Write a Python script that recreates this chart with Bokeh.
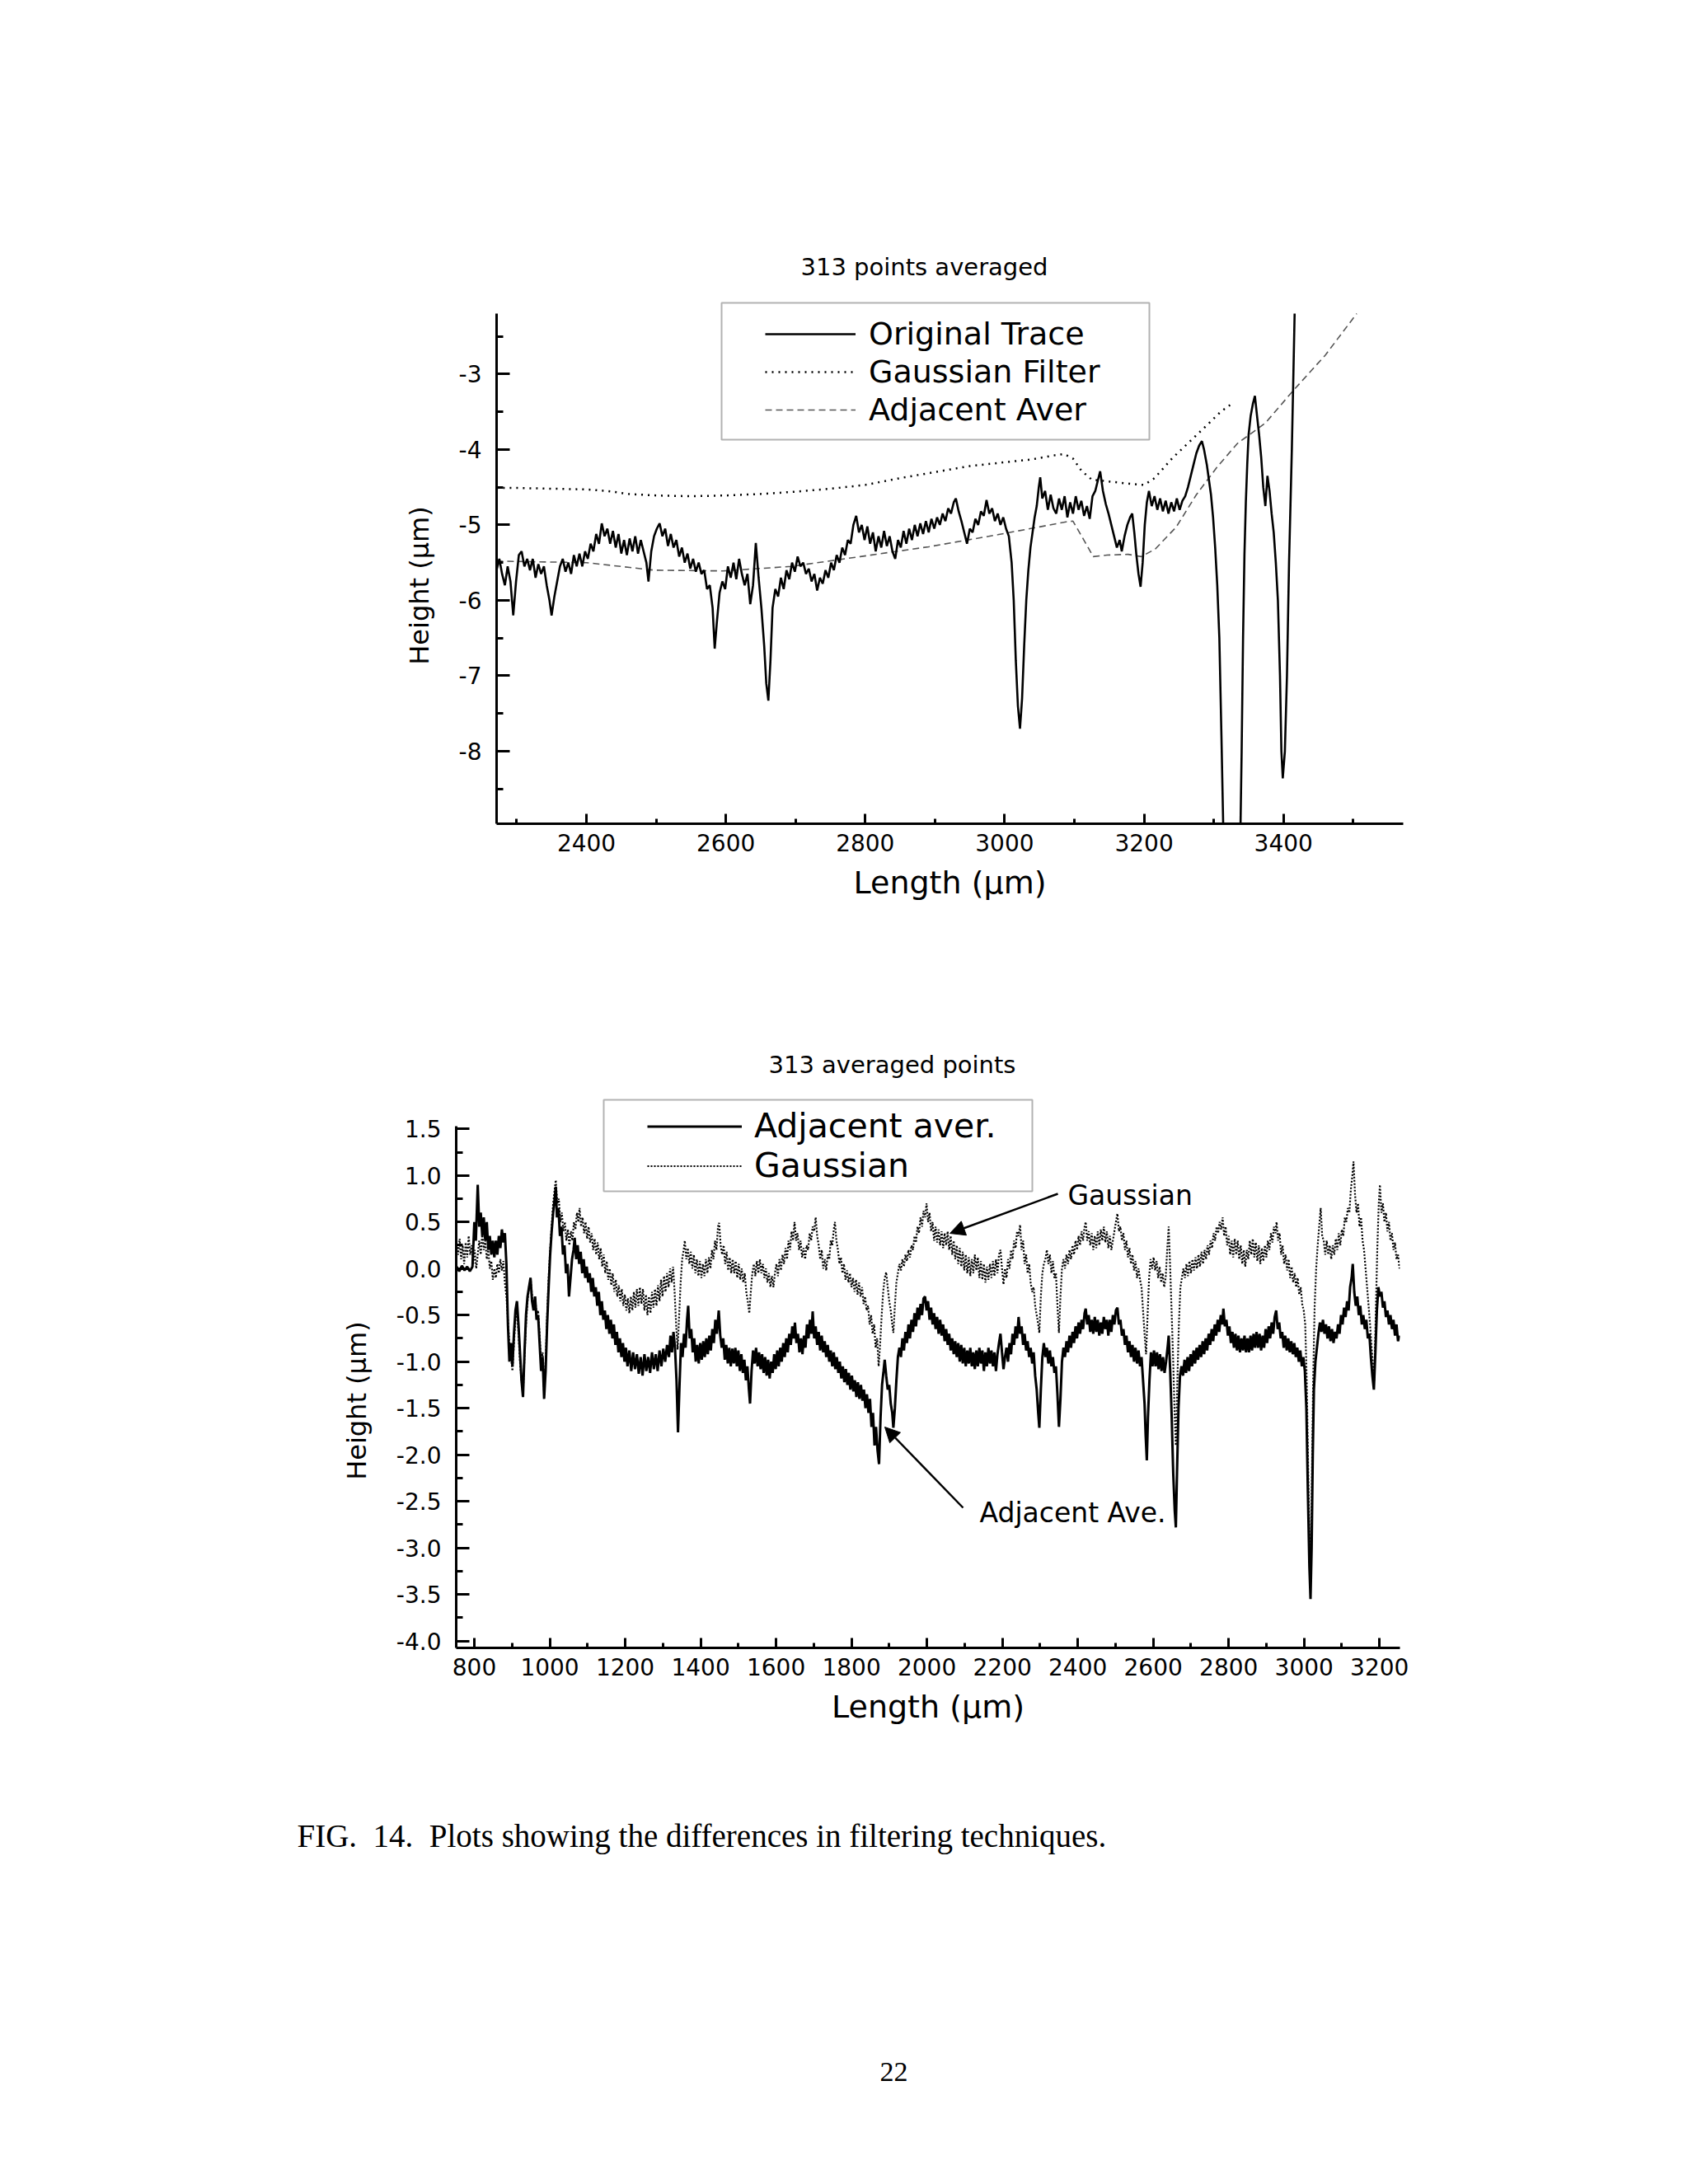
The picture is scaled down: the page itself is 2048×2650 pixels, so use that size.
import math
from bokeh.plotting import figure
from bokeh.models import (Range1d, FixedTicker, CustomJSTickFormatter, Legend, LegendItem,
                          BoxAnnotation, Label, Arrow, NormalHead, ColumnDataSource)
from bokeh.embed import file_html
from bokeh.resources import INLINE

# ------------------------------------------------------------------ data
TOP_TITLE = "313 points averaged"
BOT_TITLE = "313 averaged points"
X_LABEL = "Length (\u03bcm)"
Y_LABEL = "Height (\u03bcm)"
CAPTION = "FIG.  14.  Plots showing the differences in filtering techniques."
PAGE_NO = "22"

TOP_X_TICKS = [2400, 2600, 2800, 3000, 3200, 3400]
TOP_X_MINOR = [2300, 2500, 2700, 2900, 3100, 3300, 3500]
TOP_Y_TICKS = [-8, -7, -6, -5, -4, -3]
TOP_Y_MINOR = [-8.5, -7.5, -6.5, -5.5, -4.5, -3.5, -2.5]
BOT_X_TICKS = [800, 1000, 1200, 1400, 1600, 1800, 2000, 2200, 2400, 2600, 2800, 3000, 3200]
BOT_X_MINOR = [900, 1100, 1300, 1500, 1700, 1900, 2100, 2300, 2500, 2700, 2900, 3100]
BOT_Y_TICKS = [-4.0, -3.5, -3.0, -2.5, -2.0, -1.5, -1.0, -0.5, 0.0, 0.5, 1.0, 1.5]
BOT_Y_MINOR = [-3.75, -3.25, -2.75, -2.25, -1.75, -1.25, -0.75, -0.25, 0.25, 0.75, 1.25]

TOP_LEGEND = ["Original Trace", "Gaussian Filter", "Adjacent Aver"]
BOT_LEGEND = ["Adjacent aver.", "Gaussian"]

# top panel: original trace (x in um, height in um)
TOP_ORIG = [(2271,-5.6),(2275,-5.45),(2279,-5.65),(2283,-5.8),(2287,-5.55),(2291,-5.75),(2295,-6.2),(2299,-5.75),(2303,-5.4),(2307,-5.35),(2311,-5.55),(2315,-5.45),(2319,-5.6),(2323,-5.45),(2327,-5.7),(2331,-5.52),(2335,-5.65),(2339,-5.55),(2343,-5.8),(2347,-6.0),(2350,-6.2),(2354,-5.95),(2358,-5.75),(2362,-5.55),(2366,-5.45),(2370,-5.62),(2374,-5.5),(2378,-5.65),(2382,-5.4),(2386,-5.55),(2390,-5.38),(2394,-5.55),(2398,-5.35),(2402,-5.45),(2406,-5.25),(2410,-5.35),(2414,-5.12),(2418,-5.25),(2422,-4.98),(2426,-5.15),(2430,-5.05),(2434,-5.25),(2438,-5.08),(2442,-5.3),(2446,-5.12),(2450,-5.38),(2454,-5.2),(2458,-5.4),(2462,-5.18),(2466,-5.35),(2470,-5.15),(2474,-5.38),(2478,-5.2),(2482,-5.35),(2486,-5.5),(2489,-5.75),(2493,-5.35),(2497,-5.15),(2501,-5.05),(2505,-4.98),(2509,-5.15),(2513,-5.05),(2517,-5.28),(2521,-5.12),(2525,-5.3),(2529,-5.2),(2533,-5.42),(2537,-5.3),(2541,-5.5),(2545,-5.38),(2549,-5.58),(2553,-5.45),(2557,-5.62),(2561,-5.5),(2565,-5.65),(2569,-5.6),(2573,-5.85),(2577,-5.8),(2581,-6.1),(2584,-6.64),(2587,-6.3),(2591,-5.9),(2595,-5.75),(2599,-5.85),(2603,-5.55),(2607,-5.7),(2611,-5.5),(2615,-5.72),(2619,-5.45),(2623,-5.65),(2627,-5.8),(2631,-5.65),(2635,-6.05),(2639,-5.8),(2643,-5.24),(2647,-5.7),(2651,-6.1),(2655,-6.6),(2658,-7.1),(2661,-7.33),(2664,-6.8),(2667,-6.1),(2671,-5.85),(2675,-5.95),(2679,-5.7),(2683,-5.85),(2687,-5.6),(2691,-5.72),(2695,-5.5),(2699,-5.62),(2703,-5.42),(2707,-5.55),(2711,-5.5),(2715,-5.65),(2719,-5.58),(2723,-5.75),(2727,-5.65),(2731,-5.87),(2735,-5.7),(2739,-5.78),(2743,-5.6),(2747,-5.7),(2751,-5.5),(2755,-5.6),(2759,-5.4),(2763,-5.5),(2767,-5.3),(2771,-5.4),(2775,-5.2),(2779,-5.25),(2783,-5.0),(2787,-4.88),(2791,-5.1),(2795,-5.0),(2799,-5.2),(2803,-5.02),(2807,-5.25),(2811,-5.1),(2815,-5.35),(2819,-5.15),(2823,-5.3),(2827,-5.08),(2831,-5.28),(2835,-5.15),(2839,-5.35),(2843,-5.45),(2847,-5.2),(2851,-5.3),(2855,-5.08),(2859,-5.25),(2863,-5.05),(2867,-5.2),(2871,-5.0),(2875,-5.15),(2879,-4.98),(2883,-5.12),(2887,-4.95),(2891,-5.1),(2895,-4.92),(2899,-5.05),(2903,-4.9),(2907,-5.0),(2911,-4.85),(2915,-4.95),(2919,-4.78),(2923,-4.85),(2927,-4.7),(2930,-4.65),(2934,-4.82),(2938,-4.95),(2942,-5.1),(2946,-5.25),(2950,-5.05),(2954,-5.1),(2958,-4.92),(2962,-5.0),(2966,-4.82),(2970,-4.88),(2974,-4.67),(2978,-4.85),(2982,-4.78),(2986,-4.95),(2990,-4.85),(2994,-5.0),(2998,-4.9),(3002,-5.05),(3006,-5.15),(3010,-5.5),(3013,-6.0),(3016,-6.8),(3019,-7.4),(3022,-7.7),(3025,-7.3),(3028,-6.6),(3031,-6.0),(3034,-5.6),(3037,-5.3),(3040,-5.1),(3043,-4.9),(3046,-4.75),(3049,-4.5),(3051,-4.37),(3054,-4.65),(3058,-4.55),(3062,-4.8),(3066,-4.6),(3070,-4.78),(3074,-4.85),(3078,-4.65),(3082,-4.8),(3086,-4.62),(3090,-4.9),(3094,-4.7),(3098,-4.85),(3102,-4.62),(3106,-4.8),(3110,-4.68),(3114,-4.88),(3118,-4.75),(3122,-4.92),(3126,-4.62),(3130,-4.55),(3134,-4.4),(3137,-4.29),(3141,-4.55),(3145,-4.72),(3149,-4.85),(3153,-5.0),(3157,-5.15),(3161,-5.3),(3165,-5.2),(3168,-5.35),(3172,-5.15),(3176,-5.0),(3180,-4.9),(3183,-4.85),(3186,-5.1),(3189,-5.4),(3192,-5.65),(3195,-5.82),(3198,-5.5),(3201,-5.0),(3204,-4.7),(3207,-4.55),(3211,-4.75),(3215,-4.62),(3219,-4.8),(3223,-4.65),(3227,-4.82),(3231,-4.68),(3235,-4.85),(3239,-4.7),(3243,-4.82),(3247,-4.65),(3251,-4.8),(3255,-4.68),(3259,-4.62),(3263,-4.5),(3267,-4.35),(3271,-4.2),(3275,-4.05),(3279,-3.95),(3283,-3.89),(3286,-4.0),(3290,-4.2),(3293,-4.4),(3296,-4.6),(3299,-4.9),(3302,-5.3),(3305,-5.8),(3308,-6.5),(3311,-7.8),(3314,-9.2),(3316,-9.8),(3337,-9.8),(3340,-8.0),(3342,-6.5),(3344,-5.4),(3346,-4.7),(3348,-4.2),(3350,-3.8),(3353,-3.55),(3356,-3.4),(3359,-3.29),(3362,-3.55),(3365,-3.8),(3368,-4.1),(3371,-4.5),(3374,-4.75),(3377,-4.35),(3380,-4.55),(3383,-4.85),(3386,-5.1),(3389,-5.5),(3392,-6.0),(3395,-7.0),(3397,-8.0),(3399,-8.36),(3402,-8.0),(3405,-7.0),(3408,-5.5),(3412,-4.0),(3416,-2.2)]

TOP_GAUSS = [(2271,-4.51),(2300,-4.51),(2350,-4.52),(2400,-4.53),(2430,-4.55),(2460,-4.59),(2500,-4.61),(2550,-4.62),(2600,-4.61),(2650,-4.59),(2700,-4.56),(2750,-4.52),(2800,-4.47),(2850,-4.38),(2900,-4.3),(2950,-4.22),(3000,-4.17),(3040,-4.13),(3070,-4.08),(3085,-4.06),(3098,-4.12),(3110,-4.28),(3125,-4.4),(3145,-4.42),(3165,-4.44),(3185,-4.46),(3200,-4.47),(3215,-4.38),(3240,-4.12),(3265,-3.9),(3290,-3.68),(3310,-3.5),(3328,-3.38)]

TOP_ADJ = [(2271,-5.48),(2400,-5.5),(2497,-5.6),(2596,-5.61),(2694,-5.55),(2793,-5.42),(2891,-5.29),(2990,-5.13),(3088,-4.96),(3098,-4.95),(3113,-5.19),(3127,-5.42),(3147,-5.4),(3177,-5.39),(3196,-5.42),(3216,-5.32),(3246,-5.03),(3275,-4.6),(3305,-4.23),(3334,-3.92),(3374,-3.65),(3413,-3.23),(3460,-2.75),(3505,-2.2)]

# bottom panel: adjacent averaging (solid) and Gaussian (dotted)
BOT_ADJ = [(753,0.02),(760,-0.03),(767,0.03),(774,-0.02),(781,0.02),(788,-0.03),(795,0.02),(800,0.5),(804,0.3),(809,0.9),(813,0.45),(817,0.6),(821,0.35),(825,0.55),(829,0.3),(833,0.5),(837,0.2),(841,0.35),(845,0.15),(849,0.3),(853,0.12),(857,0.3),(861,0.15),(865,0.35),(869,0.22),(873,0.42),(877,0.28),(881,0.38),(885,0.05),(889,-0.6),(893,-1.0),(897,-0.8),(901,-1.05),(905,-0.7),(909,-0.45),(913,-0.35),(917,-0.6),(921,-0.9),(925,-1.2),(929,-1.38),(933,-0.9),(937,-0.5),(941,-0.3),(945,-0.2),(949,-0.1),(953,-0.35),(957,-0.45),(961,-0.3),(965,-0.55),(969,-0.5),(973,-0.8),(977,-1.1),(981,-0.95),(985,-1.4),(989,-1.1),(993,-0.6),(997,-0.2),(1001,0.15),(1005,0.4),(1009,0.6),(1013,0.75),(1016,0.88),(1019,0.55),(1023,0.65),(1027,0.35),(1031,0.45),(1035,0.15),(1039,0.25),(1043,-0.05),(1047,0.05),(1051,-0.3),(1055,-0.1),(1059,0.1),(1063,0.2),(1066,0.33),(1070,0.1),(1074,0.25),(1078,0.05),(1082,0.18),(1086,-0.05),(1090,0.1),(1094,-0.1),(1098,0.02),(1102,-0.15),(1106,-0.05),(1110,-0.25),(1114,-0.1),(1118,-0.3),(1122,-0.2),(1126,-0.4),(1130,-0.25),(1134,-0.5),(1138,-0.35),(1142,-0.55),(1146,-0.45),(1150,-0.65),(1154,-0.5),(1158,-0.7),(1162,-0.55),(1166,-0.75),(1170,-0.6),(1174,-0.82),(1178,-0.68),(1182,-0.9),(1186,-0.75),(1190,-0.95),(1194,-0.8),(1198,-1.0),(1202,-0.85),(1206,-1.05),(1211,-0.88),(1216,-1.1),(1221,-0.9),(1226,-1.08),(1231,-0.92),(1236,-1.13),(1241,-0.95),(1246,-1.15),(1251,-0.92),(1256,-1.1),(1261,-0.95),(1266,-1.12),(1271,-0.9),(1276,-1.08),(1281,-0.92),(1286,-1.1),(1291,-0.88),(1296,-1.05),(1301,-0.86),(1306,-1.0),(1311,-0.82),(1316,-0.95),(1320,-0.72),(1324,-0.9),(1328,-0.68),(1332,-0.85),(1336,-1.2),(1340,-1.76),(1344,-1.25),(1348,-0.8),(1352,-0.95),(1356,-0.7),(1360,-0.85),(1364,-0.55),(1367,-0.4),(1371,-0.75),(1375,-0.65),(1379,-0.9),(1383,-0.75),(1387,-1.0),(1391,-0.82),(1395,-1.02),(1399,-0.8),(1403,-0.98),(1407,-0.78),(1411,-0.95),(1415,-0.75),(1419,-0.92),(1423,-0.72),(1427,-0.88),(1431,-0.65),(1435,-0.8),(1439,-0.55),(1443,-0.7),(1448,-0.45),(1452,-0.72),(1456,-0.85),(1460,-0.75),(1464,-0.98),(1468,-0.82),(1472,-1.02),(1476,-0.85),(1480,-1.05),(1484,-0.86),(1488,-1.02),(1492,-0.85),(1496,-1.05),(1500,-0.88),(1504,-1.1),(1508,-0.92),(1512,-1.12),(1516,-0.98),(1520,-1.2),(1524,-1.05),(1528,-1.3),(1531,-1.45),(1535,-1.1),(1539,-0.88),(1543,-1.02),(1547,-0.85),(1551,-1.05),(1555,-0.9),(1559,-1.08),(1563,-0.92),(1567,-1.12),(1571,-0.95),(1575,-1.15),(1579,-0.98),(1583,-1.18),(1587,-1.0),(1591,-1.12),(1595,-0.92),(1599,-1.08),(1603,-0.88),(1607,-1.05),(1611,-0.85),(1615,-1.0),(1619,-0.8),(1623,-0.95),(1627,-0.75),(1631,-0.9),(1635,-0.7),(1639,-0.82),(1643,-0.62),(1647,-0.75),(1650,-0.58),(1654,-0.8),(1658,-0.7),(1662,-0.9),(1666,-0.75),(1670,-0.92),(1674,-0.72),(1678,-0.85),(1682,-0.6),(1686,-0.75),(1690,-0.55),(1694,-0.7),(1697,-0.46),(1701,-0.75),(1705,-0.62),(1709,-0.82),(1713,-0.68),(1717,-0.88),(1721,-0.72),(1725,-0.9),(1729,-0.78),(1733,-0.95),(1737,-0.82),(1741,-1.0),(1745,-0.88),(1749,-1.05),(1753,-0.9),(1757,-1.08),(1761,-0.95),(1765,-1.12),(1769,-1.0),(1773,-1.18),(1777,-1.05),(1781,-1.22),(1785,-1.08),(1789,-1.25),(1793,-1.12),(1797,-1.3),(1801,-1.15),(1805,-1.32),(1809,-1.2),(1813,-1.38),(1817,-1.22),(1821,-1.4),(1825,-1.25),(1829,-1.42),(1833,-1.3),(1837,-1.5),(1841,-1.35),(1845,-1.55),(1849,-1.4),(1853,-1.7),(1857,-1.55),(1861,-1.9),(1865,-1.7),(1869,-1.95),(1873,-2.1),(1877,-1.6),(1881,-1.25),(1885,-1.1),(1888,-0.98),(1892,-1.15),(1896,-1.3),(1900,-1.25),(1904,-1.45),(1908,-1.55),(1911,-1.71),(1915,-1.5),(1919,-1.2),(1923,-0.95),(1927,-0.85),(1931,-0.95),(1935,-0.75),(1939,-0.88),(1943,-0.68),(1947,-0.8),(1951,-0.6),(1955,-0.75),(1959,-0.55),(1963,-0.68),(1967,-0.48),(1971,-0.62),(1975,-0.42),(1979,-0.55),(1983,-0.38),(1987,-0.5),(1991,-0.32),(1995,-0.3),(1999,-0.45),(2003,-0.35),(2007,-0.55),(2011,-0.42),(2015,-0.6),(2019,-0.48),(2023,-0.65),(2027,-0.52),(2031,-0.7),(2035,-0.55),(2039,-0.72),(2043,-0.6),(2047,-0.78),(2051,-0.65),(2055,-0.82),(2059,-0.7),(2063,-0.88),(2067,-0.75),(2071,-0.92),(2075,-0.78),(2079,-0.95),(2083,-0.8),(2087,-1.0),(2091,-0.82),(2095,-1.02),(2099,-0.85),(2103,-1.05),(2107,-0.88),(2111,-1.02),(2115,-0.85),(2119,-1.05),(2123,-0.9),(2127,-1.08),(2131,-0.88),(2135,-1.05),(2139,-0.85),(2143,-1.02),(2147,-0.88),(2151,-1.1),(2155,-0.9),(2159,-1.05),(2163,-0.85),(2167,-1.02),(2171,-0.88),(2175,-1.05),(2179,-0.9),(2183,-1.1),(2187,-0.92),(2191,-0.8),(2195,-0.7),(2199,-0.9),(2203,-1.08),(2207,-0.95),(2211,-0.85),(2215,-1.0),(2219,-0.8),(2223,-0.92),(2227,-0.7),(2231,-0.82),(2235,-0.62),(2239,-0.75),(2243,-0.52),(2247,-0.7),(2251,-0.62),(2255,-0.82),(2259,-0.7),(2263,-0.88),(2267,-0.78),(2271,-0.95),(2275,-0.85),(2279,-1.02),(2283,-0.9),(2287,-1.15),(2291,-1.3),(2295,-1.55),(2298,-1.71),(2302,-1.3),(2306,-0.95),(2310,-0.8),(2314,-0.95),(2318,-0.85),(2322,-1.02),(2326,-0.88),(2330,-1.05),(2334,-0.95),(2338,-1.12),(2342,-1.05),(2346,-1.35),(2350,-1.7),(2354,-1.4),(2358,-1.0),(2362,-0.85),(2366,-0.95),(2370,-0.78),(2374,-0.9),(2378,-0.72),(2382,-0.85),(2386,-0.68),(2390,-0.8),(2394,-0.62),(2398,-0.75),(2402,-0.58),(2406,-0.7),(2410,-0.55),(2414,-0.65),(2418,-0.48),(2421,-0.43),(2425,-0.6),(2429,-0.5),(2433,-0.68),(2437,-0.55),(2441,-0.7),(2445,-0.52),(2449,-0.68),(2453,-0.55),(2457,-0.72),(2461,-0.58),(2465,-0.7),(2469,-0.52),(2473,-0.65),(2477,-0.55),(2481,-0.72),(2485,-0.55),(2489,-0.68),(2493,-0.5),(2497,-0.6),(2501,-0.45),(2505,-0.42),(2509,-0.6),(2513,-0.55),(2517,-0.72),(2521,-0.65),(2525,-0.82),(2529,-0.72),(2533,-0.9),(2537,-0.78),(2541,-0.95),(2545,-0.82),(2549,-1.0),(2553,-0.85),(2557,-1.02),(2561,-0.88),(2565,-1.05),(2569,-0.95),(2573,-1.2),(2577,-1.45),(2580,-1.8),(2583,-2.06),(2586,-1.6),(2590,-1.2),(2594,-0.9),(2598,-1.05),(2602,-0.88),(2606,-1.05),(2610,-0.9),(2614,-1.08),(2618,-0.92),(2622,-1.1),(2626,-0.95),(2630,-1.12),(2634,-1.0),(2638,-0.85),(2641,-0.72),(2645,-1.1),(2649,-1.6),(2653,-2.2),(2657,-2.6),(2660,-2.78),(2663,-2.2),(2667,-1.5),(2671,-1.15),(2675,-1.05),(2679,-1.15),(2683,-0.98),(2687,-1.12),(2691,-0.95),(2695,-1.1),(2699,-0.92),(2703,-1.05),(2707,-0.88),(2711,-1.02),(2715,-0.85),(2719,-0.98),(2723,-0.82),(2727,-0.95),(2731,-0.78),(2735,-0.92),(2739,-0.75),(2743,-0.88),(2747,-0.7),(2751,-0.82),(2755,-0.65),(2759,-0.78),(2763,-0.6),(2767,-0.72),(2771,-0.55),(2775,-0.68),(2779,-0.5),(2783,-0.6),(2786,-0.43),(2790,-0.62),(2794,-0.55),(2798,-0.72),(2802,-0.62),(2806,-0.8),(2810,-0.68),(2814,-0.85),(2818,-0.7),(2822,-0.88),(2826,-0.72),(2830,-0.9),(2834,-0.75),(2838,-0.88),(2842,-0.72),(2846,-0.9),(2850,-0.75),(2854,-0.9),(2858,-0.72),(2862,-0.88),(2866,-0.7),(2870,-0.85),(2874,-0.68),(2878,-0.85),(2882,-0.7),(2886,-0.88),(2890,-0.72),(2894,-0.85),(2898,-0.65),(2902,-0.8),(2906,-0.62),(2910,-0.75),(2914,-0.58),(2918,-0.7),(2922,-0.52),(2926,-0.45),(2930,-0.65),(2934,-0.58),(2938,-0.75),(2942,-0.68),(2946,-0.85),(2950,-0.72),(2954,-0.88),(2958,-0.75),(2962,-0.9),(2966,-0.78),(2970,-0.92),(2974,-0.8),(2978,-0.95),(2982,-0.85),(2986,-1.0),(2990,-0.88),(2994,-1.05),(2998,-0.95),(3002,-1.1),(3006,-1.5),(3010,-2.4),(3014,-3.2),(3017,-3.55),(3020,-3.0),(3023,-2.0),(3026,-1.3),(3030,-1.0),(3034,-0.85),(3038,-0.7),(3042,-0.58),(3046,-0.68),(3050,-0.55),(3054,-0.7),(3058,-0.6),(3062,-0.75),(3066,-0.62),(3070,-0.78),(3074,-0.65),(3078,-0.8),(3082,-0.68),(3086,-0.75),(3090,-0.6),(3094,-0.7),(3098,-0.5),(3102,-0.6),(3106,-0.42),(3110,-0.52),(3114,-0.35),(3118,-0.45),(3122,-0.2),(3126,-0.1),(3129,0.05),(3133,-0.25),(3137,-0.4),(3141,-0.3),(3145,-0.5),(3149,-0.4),(3153,-0.6),(3157,-0.5),(3161,-0.65),(3165,-0.55),(3169,-0.75),(3173,-0.7),(3177,-0.95),(3181,-1.15),(3185,-1.3),(3189,-0.9),(3193,-0.45),(3197,-0.2),(3201,-0.3),(3205,-0.25),(3209,-0.42),(3213,-0.35),(3217,-0.52),(3221,-0.45),(3225,-0.6),(3229,-0.5),(3233,-0.65),(3237,-0.55),(3241,-0.72),(3245,-0.6),(3249,-0.78),(3253,-0.72)]

BOT_GAU = [(753,0.3),(757,0.15),(761,0.32),(765,0.1),(769,0.25),(773,0.05),(777,0.28),(781,0.12),(785,0.35),(789,0.15),(793,0.25),(797,0.05),(801,0.2),(805,0.0),(809,0.15),(813,0.3),(817,0.15),(821,0.38),(825,0.2),(829,0.3),(833,0.1),(837,0.2),(841,0.0),(845,0.08),(849,-0.12),(853,0.0),(857,-0.1),(861,0.05),(865,-0.05),(869,0.1),(873,-0.02),(877,0.08),(881,-0.15),(885,-0.3),(889,-0.55),(893,-0.8),(897,-0.95),(901,-1.1),(905,-0.8),(909,-0.55),(913,-0.45),(917,-0.7),(921,-1.0),(925,-1.2),(929,-1.35),(933,-0.95),(937,-0.6),(941,-0.35),(945,-0.2),(949,-0.1),(953,-0.3),(957,-0.4),(961,-0.3),(965,-0.5),(969,-0.45),(973,-0.7),(977,-1.0),(981,-0.9),(985,-1.35),(989,-1.0),(993,-0.5),(997,-0.1),(1001,0.2),(1005,0.45),(1009,0.7),(1013,0.85),(1016,0.95),(1020,0.7),(1024,0.75),(1028,0.5),(1032,0.6),(1036,0.4),(1040,0.5),(1044,0.3),(1048,0.42),(1052,0.25),(1056,0.4),(1060,0.3),(1064,0.5),(1068,0.42),(1072,0.6),(1076,0.5),(1079,0.65),(1083,0.45),(1087,0.55),(1091,0.38),(1095,0.5),(1099,0.32),(1103,0.45),(1107,0.28),(1111,0.38),(1115,0.2),(1119,0.32),(1123,0.15),(1127,0.28),(1131,0.1),(1135,0.22),(1139,0.02),(1143,0.15),(1147,-0.05),(1151,0.08),(1155,-0.12),(1159,0.0),(1163,-0.18),(1167,-0.05),(1171,-0.25),(1175,-0.12),(1179,-0.3),(1183,-0.18),(1187,-0.35),(1191,-0.22),(1195,-0.4),(1199,-0.28),(1203,-0.45),(1207,-0.32),(1211,-0.48),(1215,-0.3),(1219,-0.45),(1223,-0.25),(1227,-0.42),(1231,-0.22),(1235,-0.4),(1239,-0.2),(1243,-0.38),(1247,-0.22),(1251,-0.45),(1255,-0.28),(1259,-0.5),(1263,-0.3),(1267,-0.48),(1271,-0.25),(1275,-0.42),(1279,-0.22),(1283,-0.4),(1287,-0.18),(1291,-0.35),(1295,-0.12),(1299,-0.3),(1303,-0.08),(1307,-0.25),(1311,-0.05),(1315,-0.2),(1319,0.0),(1323,-0.15),(1327,0.02),(1331,-0.25),(1335,-0.6),(1339,-0.87),(1343,-0.5),(1347,-0.15),(1351,0.1),(1355,0.2),(1358,0.3),(1362,0.1),(1366,0.22),(1370,0.05),(1374,0.18),(1378,0.0),(1382,0.15),(1386,-0.05),(1390,0.1),(1394,-0.08),(1398,0.08),(1402,-0.1),(1406,0.05),(1410,-0.08),(1414,0.1),(1418,-0.05),(1422,0.12),(1426,0.0),(1430,0.2),(1434,0.1),(1438,0.3),(1442,0.2),(1446,0.45),(1449,0.49),(1453,0.25),(1457,0.15),(1461,0.25),(1465,0.05),(1469,0.18),(1473,-0.02),(1477,0.12),(1481,-0.05),(1485,0.1),(1489,-0.05),(1493,0.08),(1497,-0.1),(1501,0.05),(1505,-0.12),(1509,0.0),(1513,-0.15),(1517,-0.05),(1521,-0.25),(1525,-0.35),(1529,-0.48),(1533,-0.25),(1537,-0.05),(1541,0.05),(1545,-0.08),(1549,0.08),(1553,-0.05),(1557,0.1),(1561,-0.05),(1565,0.05),(1569,-0.1),(1573,0.0),(1577,-0.15),(1581,-0.05),(1585,-0.2),(1589,-0.08),(1593,-0.2),(1597,-0.05),(1601,0.05),(1605,-0.08),(1609,0.1),(1613,-0.02),(1617,0.15),(1621,0.05),(1625,0.22),(1629,0.1),(1633,0.3),(1637,0.2),(1641,0.4),(1645,0.3),(1649,0.5),(1653,0.3),(1657,0.38),(1661,0.2),(1665,0.3),(1669,0.12),(1673,0.22),(1677,0.1),(1681,0.25),(1685,0.2),(1689,0.38),(1693,0.3),(1697,0.45),(1701,0.4),(1705,0.55),(1709,0.35),(1713,0.25),(1717,0.1),(1721,0.2),(1725,0.0),(1729,0.1),(1733,-0.02),(1737,0.15),(1741,0.1),(1745,0.3),(1749,0.25),(1753,0.42),(1756,0.5),(1760,0.3),(1764,0.2),(1768,0.05),(1772,0.12),(1776,-0.05),(1780,0.05),(1784,-0.12),(1788,-0.02),(1792,-0.15),(1796,-0.05),(1800,-0.2),(1804,-0.1),(1808,-0.25),(1812,-0.12),(1816,-0.28),(1820,-0.15),(1824,-0.3),(1828,-0.2),(1832,-0.38),(1836,-0.3),(1840,-0.45),(1844,-0.4),(1848,-0.6),(1852,-0.5),(1856,-0.7),(1860,-0.6),(1864,-0.85),(1868,-0.75),(1872,-1.05),(1876,-0.8),(1880,-0.5),(1884,-0.25),(1888,-0.1),(1892,-0.04),(1896,-0.2),(1900,-0.35),(1904,-0.45),(1908,-0.6),(1911,-0.69),(1915,-0.4),(1919,-0.15),(1923,-0.05),(1927,0.05),(1931,-0.02),(1935,0.1),(1939,0.02),(1943,0.15),(1947,0.08),(1951,0.2),(1955,0.12),(1959,0.25),(1963,0.2),(1967,0.35),(1971,0.28),(1975,0.45),(1979,0.38),(1983,0.55),(1987,0.45),(1991,0.62),(1995,0.55),(1999,0.7),(2003,0.5),(2007,0.6),(2011,0.4),(2015,0.5),(2019,0.3),(2023,0.45),(2027,0.28),(2031,0.42),(2035,0.25),(2039,0.4),(2043,0.22),(2047,0.38),(2051,0.25),(2055,0.4),(2059,0.2),(2063,0.35),(2067,0.15),(2071,0.3),(2075,0.1),(2079,0.25),(2083,0.05),(2087,0.22),(2091,0.02),(2095,0.18),(2099,-0.02),(2103,0.15),(2107,-0.05),(2111,0.12),(2115,-0.08),(2119,0.1),(2123,-0.05),(2127,0.15),(2131,-0.02),(2135,0.12),(2139,-0.1),(2143,0.08),(2147,-0.12),(2151,0.05),(2155,-0.15),(2159,0.02),(2163,-0.12),(2167,0.05),(2171,-0.1),(2175,0.08),(2179,-0.08),(2183,0.1),(2187,-0.05),(2191,0.15),(2195,0.2),(2199,0.0),(2203,-0.17),(2207,0.0),(2211,-0.1),(2215,0.1),(2219,0.0),(2223,0.2),(2227,0.1),(2231,0.3),(2235,0.22),(2239,0.4),(2243,0.35),(2247,0.47),(2251,0.2),(2255,0.3),(2259,0.05),(2263,0.15),(2267,-0.05),(2271,0.05),(2275,-0.15),(2279,-0.25),(2283,-0.2),(2287,-0.4),(2291,-0.5),(2295,-0.6),(2298,-0.69),(2302,-0.3),(2306,-0.05),(2310,0.05),(2314,0.1),(2318,0.2),(2322,0.05),(2326,0.15),(2330,-0.05),(2334,0.08),(2338,-0.1),(2342,-0.05),(2346,-0.4),(2350,-0.69),(2354,-0.3),(2358,0.0),(2362,0.1),(2366,0.0),(2370,0.15),(2374,0.05),(2378,0.2),(2382,0.1),(2386,0.25),(2390,0.15),(2394,0.3),(2398,0.2),(2402,0.35),(2406,0.25),(2410,0.4),(2414,0.3),(2418,0.45),(2421,0.5),(2425,0.3),(2429,0.4),(2433,0.25),(2437,0.38),(2441,0.2),(2445,0.35),(2449,0.22),(2453,0.4),(2457,0.25),(2461,0.42),(2465,0.3),(2469,0.45),(2473,0.28),(2477,0.4),(2481,0.22),(2485,0.35),(2489,0.2),(2493,0.3),(2497,0.4),(2501,0.5),(2505,0.59),(2509,0.4),(2513,0.45),(2517,0.3),(2521,0.38),(2525,0.2),(2529,0.3),(2533,0.12),(2537,0.22),(2541,0.05),(2545,0.15),(2549,-0.02),(2553,0.08),(2557,-0.1),(2561,0.0),(2565,-0.12),(2569,-0.2),(2573,-0.45),(2577,-0.7),(2581,-0.92),(2585,-0.5),(2589,-0.1),(2593,0.1),(2597,0.0),(2601,0.12),(2605,-0.02),(2609,0.08),(2613,-0.1),(2617,0.02),(2621,-0.15),(2625,-0.05),(2629,-0.2),(2633,-0.1),(2637,0.2),(2641,0.45),(2645,0.0),(2649,-0.5),(2653,-1.0),(2657,-1.6),(2660,-1.9),(2664,-1.2),(2668,-0.6),(2672,-0.2),(2676,-0.1),(2680,0.0),(2684,-0.1),(2688,0.05),(2692,-0.08),(2696,0.08),(2700,-0.05),(2704,0.1),(2708,-0.02),(2712,0.12),(2716,0.0),(2720,0.15),(2724,0.02),(2728,0.18),(2732,0.05),(2736,0.2),(2740,0.1),(2744,0.25),(2748,0.15),(2752,0.3),(2756,0.22),(2760,0.38),(2764,0.3),(2768,0.45),(2772,0.38),(2776,0.5),(2780,0.42),(2784,0.55),(2788,0.35),(2792,0.45),(2796,0.25),(2800,0.35),(2804,0.15),(2808,0.3),(2812,0.12),(2816,0.32),(2820,0.15),(2824,0.3),(2828,0.1),(2832,0.25),(2836,0.05),(2840,0.2),(2844,0.02),(2848,0.2),(2852,0.1),(2856,0.3),(2860,0.15),(2864,0.32),(2868,0.12),(2872,0.28),(2876,0.08),(2880,0.25),(2884,0.05),(2888,0.22),(2892,0.08),(2896,0.25),(2900,0.12),(2904,0.3),(2908,0.2),(2912,0.38),(2916,0.28),(2920,0.45),(2924,0.38),(2927,0.5),(2931,0.3),(2935,0.38),(2939,0.15),(2943,0.25),(2947,0.05),(2951,0.15),(2955,-0.02),(2959,0.1),(2963,-0.1),(2967,0.02),(2971,-0.15),(2975,-0.05),(2979,-0.2),(2983,-0.1),(2987,-0.28),(2991,-0.2),(2995,-0.38),(2999,-0.45),(3003,-0.6),(3007,-1.2),(3011,-2.2),(3014,-2.8),(3017,-3.1),(3020,-2.5),(3024,-1.2),(3028,-0.4),(3032,0.0),(3036,0.25),(3040,0.45),(3044,0.65),(3048,0.35),(3052,0.3),(3056,0.15),(3060,0.3),(3064,0.15),(3068,0.25),(3072,0.1),(3076,0.25),(3080,0.15),(3084,0.32),(3088,0.2),(3092,0.38),(3096,0.25),(3100,0.42),(3104,0.35),(3108,0.55),(3112,0.5),(3116,0.65),(3120,0.6),(3124,0.85),(3128,1.0),(3131,1.15),(3135,0.8),(3139,0.6),(3143,0.7),(3147,0.45),(3151,0.55),(3155,0.3),(3159,0.2),(3163,0.0),(3167,-0.2),(3171,-0.4),(3175,-0.6),(3179,-0.85),(3183,-1.05),(3186,-1.2),(3190,-0.5),(3194,0.2),(3198,0.7),(3201,0.9),(3205,0.6),(3209,0.7),(3213,0.5),(3217,0.6),(3221,0.4),(3225,0.5),(3229,0.3),(3233,0.38),(3237,0.2),(3241,0.28),(3245,0.1),(3249,0.15),(3253,0.0)]

# ------------------------------------------------------------------ layout (page pixels, page origin at 0,0)
SANS = "DejaVu Sans"
SERIF = "Liberation Serif"
PAGE_W = 2040
NBSP = "\u00a0"

TOPG = dict(left=602, right=1702, top=380, bottom=999, x0=2271.1, x1=3571.8,
            y0=-8.961, y1=-2.199, frame_top=360, fig_top=0, height=1200,
            title_left=971, ylab_pad=6)
BOTG = dict(left=553, right=1698, top=1366, bottom=1999, x0=751.9, x1=3254.1,
            y0=-4.074, y1=1.529, frame_top=1328, fig_top=1200, height=950,
            title_left=932, ylab_pad=7)
CAPG = dict(fig_top=2150, height=490)


def mapper(g):
    sx = (g["right"] - g["left"]) / (g["x1"] - g["x0"])
    sy = (g["bottom"] - g["top"]) / (g["y1"] - g["y0"])
    return (lambda px: g["x0"] + (px - g["left"]) / sx,
            lambda py: g["y0"] + (g["bottom"] - py) / sy)


def make_fig(g, xt, xm, yt, ym, yfmt, title):
    fx, fy = mapper(g)
    p = figure(width=PAGE_W, height=g["height"],
               x_range=Range1d(g["x0"], g["x1"]),
               y_range=Range1d(g["y0"], fy(g["frame_top"])),
               min_border_left=g["left"],
               min_border_right=PAGE_W - g["right"],
               min_border_top=g["frame_top"] - g["fig_top"],
               min_border_bottom=g["height"] - (g["bottom"] - g["fig_top"]),
               output_backend="svg", toolbar_location=None)
    p.outline_line_color = None
    p.grid.visible = False
    p.background_fill_color = "white"
    p.border_fill_color = "white"
    p.title.text = title
    p.title.align = "left"
    p.title.offset = g["title_left"] - g["left"]
    p.title.text_font = SANS
    p.title.text_font_size = "29px"
    p.title.text_font_style = "normal"
    p.title.text_color = "black"
    p.title.standoff = 40
    for ax in p.axis:
        ax.axis_line_width = 3
        ax.axis_line_color = "black"
        ax.major_tick_line_width = 3
        ax.minor_tick_line_width = 3
        ax.major_tick_line_color = "black"
        ax.minor_tick_line_color = "black"
        ax.major_tick_out = 0
        ax.minor_tick_out = 0
        ax.major_label_text_font = SANS
        ax.major_label_text_font_size = "28px"
        ax.major_label_text_color = "black"
        ax.axis_label_text_font = SANS
        ax.axis_label_text_font_style = "normal"
        ax.axis_label_text_color = "black"
    xa, ya = p.xaxis[0], p.yaxis[0]
    xa.ticker = FixedTicker(ticks=xt, minor_ticks=xm)
    ya.ticker = FixedTicker(ticks=yt, minor_ticks=ym)
    xa.formatter = CustomJSTickFormatter(code="return tick.toFixed(0)")
    ya.formatter = CustomJSTickFormatter(code="return tick.toFixed(%d)" % yfmt)
    ya.bounds = (g["y0"], g["y1"])
    xa.major_tick_in = 12
    xa.minor_tick_in = 6
    ya.major_tick_in = 16
    ya.minor_tick_in = 8
    ya.major_label_standoff = 18
    xa.major_label_standoff = 12
    xa.axis_label = X_LABEL
    xa.axis_label_text_font_size = "38px"
    xa.axis_label_standoff = 13
    # label is centred on the frame; trailing no-break spaces move it down to the axis middle
    ya.axis_label = Y_LABEL + NBSP * g["ylab_pad"]
    ya.axis_label_text_font_size = "32px"
    ya.axis_label_standoff = 26
    return p, fx, fy


def xs(pairs):
    return [a for a, b in pairs]


def ys(pairs):
    return [b for a, b in pairs]


def text(p, x, y, s, size, font=SANS, align="center"):
    p.add_layout(Label(x=x, y=y, text=s, text_font=font, text_font_size=size,
                       text_align=align, text_baseline="middle", text_color="black"))


def legend_box(p, fx, fy, l, r, t, b):
    p.add_layout(BoxAnnotation(left=fx(l), right=fx(r), top=fy(t), bottom=fy(b),
                               fill_alpha=0, fill_color=None, line_color="black",
                               line_width=2))


# ------------------------------------------------------------------ top panel
p1, tx, ty = make_fig(TOPG, TOP_X_TICKS, TOP_X_MINOR, TOP_Y_TICKS, TOP_Y_MINOR, 0, TOP_TITLE)
s_orig = ColumnDataSource(dict(x=xs(TOP_ORIG), y=ys(TOP_ORIG)))
s_tg = ColumnDataSource(dict(x=xs(TOP_GAUSS), y=ys(TOP_GAUSS)))
s_ta = ColumnDataSource(dict(x=xs(TOP_ADJ), y=ys(TOP_ADJ)))
r_tg = p1.line("x", "y", source=s_tg, line_color="black", line_width=2.5, line_dash="2 6")
r_ta = p1.line("x", "y", source=s_ta, line_color="#555555", line_width=1.6, line_dash="8 5")
r_orig = p1.line("x", "y", source=s_orig, line_color="black", line_width=2.6)

legend_box(p1, tx, ty, 875, 1394, 367, 533)
leg1 = Legend(items=[LegendItem(label=TOP_LEGEND[0], renderers=[r_orig]),
                     LegendItem(label=TOP_LEGEND[1], renderers=[r_tg]),
                     LegendItem(label=TOP_LEGEND[2], renderers=[r_ta])],
              location=(928 - TOPG["left"], TOPG["bottom"] - 520),
              padding=0, spacing=0, margin=0, label_height=46, glyph_height=46,
              glyph_width=110, label_standoff=16, border_line_color=None,
              background_fill_alpha=0, label_text_font=SANS,
              label_text_font_size="38px", label_text_color="black")
p1.add_layout(leg1)

# ------------------------------------------------------------------ bottom panel
p2, bx, by = make_fig(BOTG, BOT_X_TICKS, BOT_X_MINOR, BOT_Y_TICKS, BOT_Y_MINOR, 1, BOT_TITLE)
s_bg = ColumnDataSource(dict(x=xs(BOT_GAU), y=ys(BOT_GAU)))
s_ba = ColumnDataSource(dict(x=xs(BOT_ADJ), y=ys(BOT_ADJ)))
r_bg = p2.line("x", "y", source=s_bg, line_color="black", line_width=2.2, line_dash="2 2")
r_ba = p2.line("x", "y", source=s_ba, line_color="black", line_width=3)

legend_box(p2, bx, by, 732, 1252, 1334, 1445)
leg2 = Legend(items=[LegendItem(label=BOT_LEGEND[0], renderers=[r_ba]),
                     LegendItem(label=BOT_LEGEND[1], renderers=[r_bg])],
              location=(785 - BOTG["left"], BOTG["bottom"] - 1438),
              padding=0, spacing=0, margin=0, label_height=47, glyph_height=47,
              glyph_width=115, label_standoff=15, border_line_color=None,
              background_fill_alpha=0, label_text_font=SANS,
              label_text_font_size="41px", label_text_color="black")
p2.add_layout(leg2)

# arrows with labels
p2.add_layout(Arrow(end=NormalHead(size=18, fill_color="black", line_color="black"),
                    x_start=bx(1283), y_start=by(1448), x_end=bx(1152), y_end=by(1496),
                    line_width=2.5, line_color="black"))
text(p2, bx(1295), by(1450), "Gaussian", "33px", align="left")
p2.add_layout(Arrow(end=NormalHead(size=18, fill_color="black", line_color="black"),
                    x_start=bx(1168), y_start=by(1829), x_end=bx(1073), y_end=by(1731),
                    line_width=2.5, line_color="black"))
text(p2, bx(1188), by(1835), "Adjacent Ave.", "33px", align="left")

# ------------------------------------------------------------------ caption strip
p3 = figure(width=PAGE_W, height=CAPG["height"],
            x_range=Range1d(0, PAGE_W),
            y_range=Range1d(CAPG["fig_top"] + CAPG["height"], CAPG["fig_top"]),
            x_axis_type=None, y_axis_type=None, min_border=0,
            output_backend="svg", toolbar_location=None)
p3.outline_line_color = None
p3.background_fill_color = "white"
p3.border_fill_color = "white"
# keep the double spaces of the caption visible in the SVG text
text(p3, 360, 2227, CAPTION.replace("  ", NBSP + " "), "39px", font=SERIF, align="left")
text(p3, 1084, 2513, PAGE_NO, "34px", font=SERIF)

open("out.html", "w").write(file_html([p1, p2, p3], INLINE))
